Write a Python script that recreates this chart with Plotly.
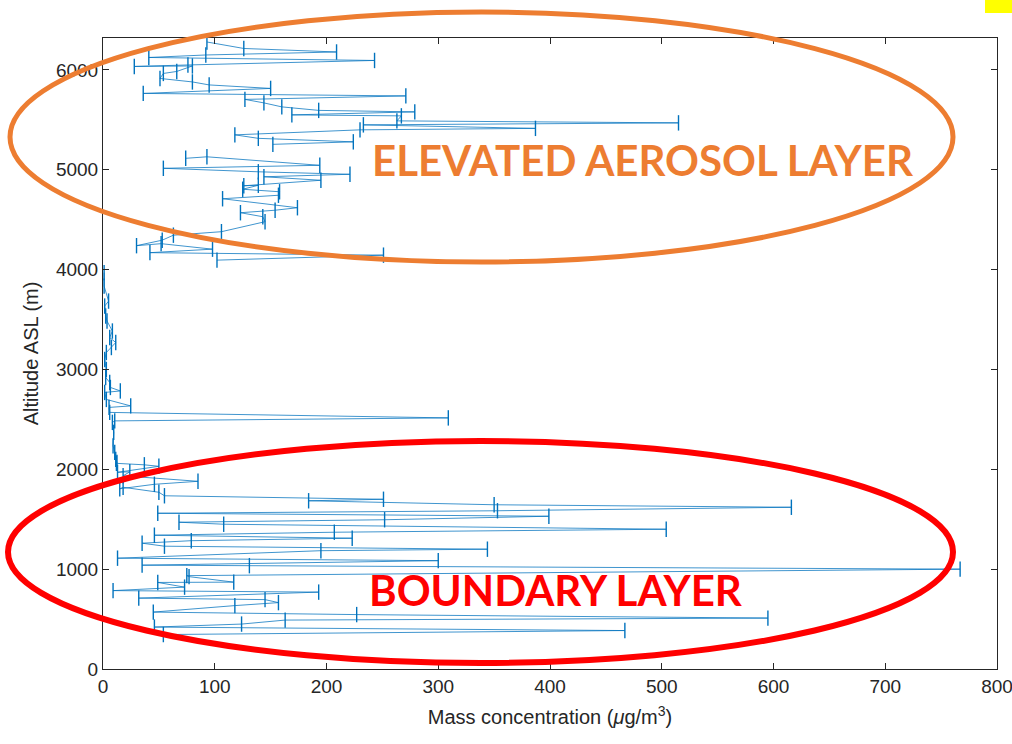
import plotly.graph_objects as go

# ---- data: mass concentration (ug/m3) vs altitude ASL (m), flight profile ----
conc_upper = [93, 126, 209, 92, 41, 243, 76, 28, 80, 66, 54, 51, 80, 95, 150, 36, 271, 127, 144,
              160, 193, 279, 169, 267, 263, 515, 233, 387, 230, 118, 139, 224, 152]
alt_upper = [6280, 6215, 6180, 6150, 6125, 6095, 6050, 6035, 6040, 5985, 5965, 5915, 5880, 5850,
             5815, 5765, 5740, 5705, 5670, 5630, 5595, 5580, 5550, 5540, 5490, 5470, 5450, 5415,
             5400, 5350, 5315, 5280, 5255]

conc_elev = [74, 93, 194, 54, 139, 221, 144, 195, 126, 139, 125, 158, 157, 107, 174, 154, 123,
             143, 145, 106, 63, 53, 30, 52, 98, 42, 251, 102]
alt_elev = [5115, 5130, 5045, 5015, 4980, 4955, 4930, 4895, 4840, 4845, 4805, 4780, 4745, 4710,
            4620, 4595, 4570, 4530, 4480, 4380, 4345, 4295, 4240, 4260, 4205, 4170, 4145, 4095]

conc_mid = [1, 1, 5, 1.5, 2.4, 3.6, 8.4, 6, 11.4, 7.5, 3, 1.5, 3, 2.4, 6, 6.6, 15.5, 1.5, 3,
            24.8, 5.4, 6, 309, 10.5, 8.4, 9.6, 9, 10.5, 11.4, 12.5]
alt_mid = [3970, 3835, 3685, 3635, 3535, 3485, 3385, 3320, 3270, 3220, 3170, 3100, 3000, 2920,
           2870, 2820, 2785, 2770, 2700, 2635, 2620, 2570, 2515, 2485, 2470, 2370, 2235, 2170,
           2100, 2070]

conc_low = [12, 37, 50, 13, 24, 18, 85, 46, 15, 18, 50, 55, 251, 184, 350, 616, 353, 49, 399,
            252, 68, 108, 504, 207, 46, 223, 79, 35, 55, 344, 195, 13, 300, 35, 131, 767, 75,
            77, 117, 49, 73, 9, 193, 32, 145, 157, 118, 45, 227, 595, 163, 124, 46, 467, 54]
alt_low = [2060, 2045, 2030, 1970, 1975, 1935, 1880, 1850, 1805, 1820, 1770, 1735, 1700, 1685,
           1645, 1620, 1585, 1560, 1530, 1495, 1470, 1450, 1400, 1370, 1340, 1310, 1285, 1260,
           1230, 1200, 1185, 1110, 1085, 1040, 1035, 1000, 935, 925, 870, 867, 820, 785, 770,
           710, 695, 665, 635, 570, 545, 510, 490, 450, 420, 385, 345]

x_ticks = [0, 100, 200, 300, 400, 500, 600, 700, 800]
y_ticks = [0, 1000, 2000, 3000, 4000, 5000, 6000]

# segments separated by gaps
xs = conc_upper + [None] + conc_elev + [None] + conc_mid + conc_low
ys = alt_upper + [None] + alt_elev + [None] + alt_mid + alt_low

BLUE = "#0072BD"
fig = go.Figure()
fig.add_trace(go.Scatter(
    x=xs, y=ys, mode="lines+markers", connectgaps=False,
    line=dict(color="rgba(0,114,189,0.75)", width=1),
    marker=dict(symbol="line-ns", size=11, line=dict(color=BLUE, width=1.4)),
    showlegend=False, hoverinfo="skip",
))

W, H = 1012, 744
L, R, T, B = 103, 15, 38, 75
pw, ph = W - L - R, H - T - B


def px_to_paper(px, py):
    return (px - L) / pw, (H - B - py) / ph


shapes = []
# orange ellipse
x0, y1 = px_to_paper(10, 12)
x1, y0 = px_to_paper(953, 262)
shapes.append(dict(type="circle", xref="paper", yref="paper", x0=x0, x1=x1, y0=y0, y1=y1,
                   line=dict(color="#ED7D31", width=5), layer="above"))
# red ellipse
x0, y1 = px_to_paper(8, 441)
x1, y0 = px_to_paper(953, 663)
shapes.append(dict(type="circle", xref="paper", yref="paper", x0=x0, x1=x1, y0=y0, y1=y1,
                   line=dict(color="#FF0000", width=6), layer="above"))
# yellow corner mark
x0, y1 = px_to_paper(985, 0)
x1, y0 = px_to_paper(1012, 13)
shapes.append(dict(type="rect", xref="paper", yref="paper", x0=x0, x1=x1, y0=y0, y1=y1,
                   fillcolor="#FFFF00", line=dict(width=0), layer="above"))

annotations = []
ax_, ay_ = px_to_paper(643, 160)
annotations.append(dict(text="<b>ELEVATED AEROSOL LAYER</b>", xref="paper", yref="paper",
                        x=ax_, y=ay_, showarrow=False, xanchor="center", yanchor="middle",
                        font=dict(family="Lato", size=42, color="#ED7D31")))
ax_, ay_ = px_to_paper(556, 590)
annotations.append(dict(text="<b>BOUNDARY LAYER</b>", xref="paper", yref="paper",
                        x=ax_, y=ay_, showarrow=False, xanchor="center", yanchor="middle",
                        font=dict(family="Lato", size=42, color="#FF0000")))

axis_common = dict(showgrid=False, zeroline=False, showline=True, linecolor="#262626",
                   linewidth=1, mirror="ticks", ticks="inside", ticklen=6, tickcolor="#262626",
                   automargin=False, ticklabeloverflow="allow",
                   tickfont=dict(family="Liberation Sans", size=19, color="#262626"))

fig.update_layout(
    width=W, height=H,
    margin=dict(l=L, r=R, t=T, b=B, autoexpand=False),
    paper_bgcolor="white", plot_bgcolor="white",
    xaxis=dict(range=[0, 800], tickvals=x_ticks, ticktext=[str(v) for v in x_ticks],
               title=dict(text="Mass concentration (<i>μ</i>g/m<sup>3</sup>)",
                          font=dict(family="Liberation Sans", size=20, color="#262626"),
                          standoff=14),
               **axis_common),
    yaxis=dict(range=[0, 6320], tickvals=y_ticks, ticktext=[str(v) for v in y_ticks],
               title=dict(text="Altitude ASL (m)",
                          font=dict(family="Liberation Sans", size=20, color="#262626"),
                          standoff=11),
               **axis_common),
    shapes=shapes,
    annotations=annotations,
)

fig.write_html("out.html")
